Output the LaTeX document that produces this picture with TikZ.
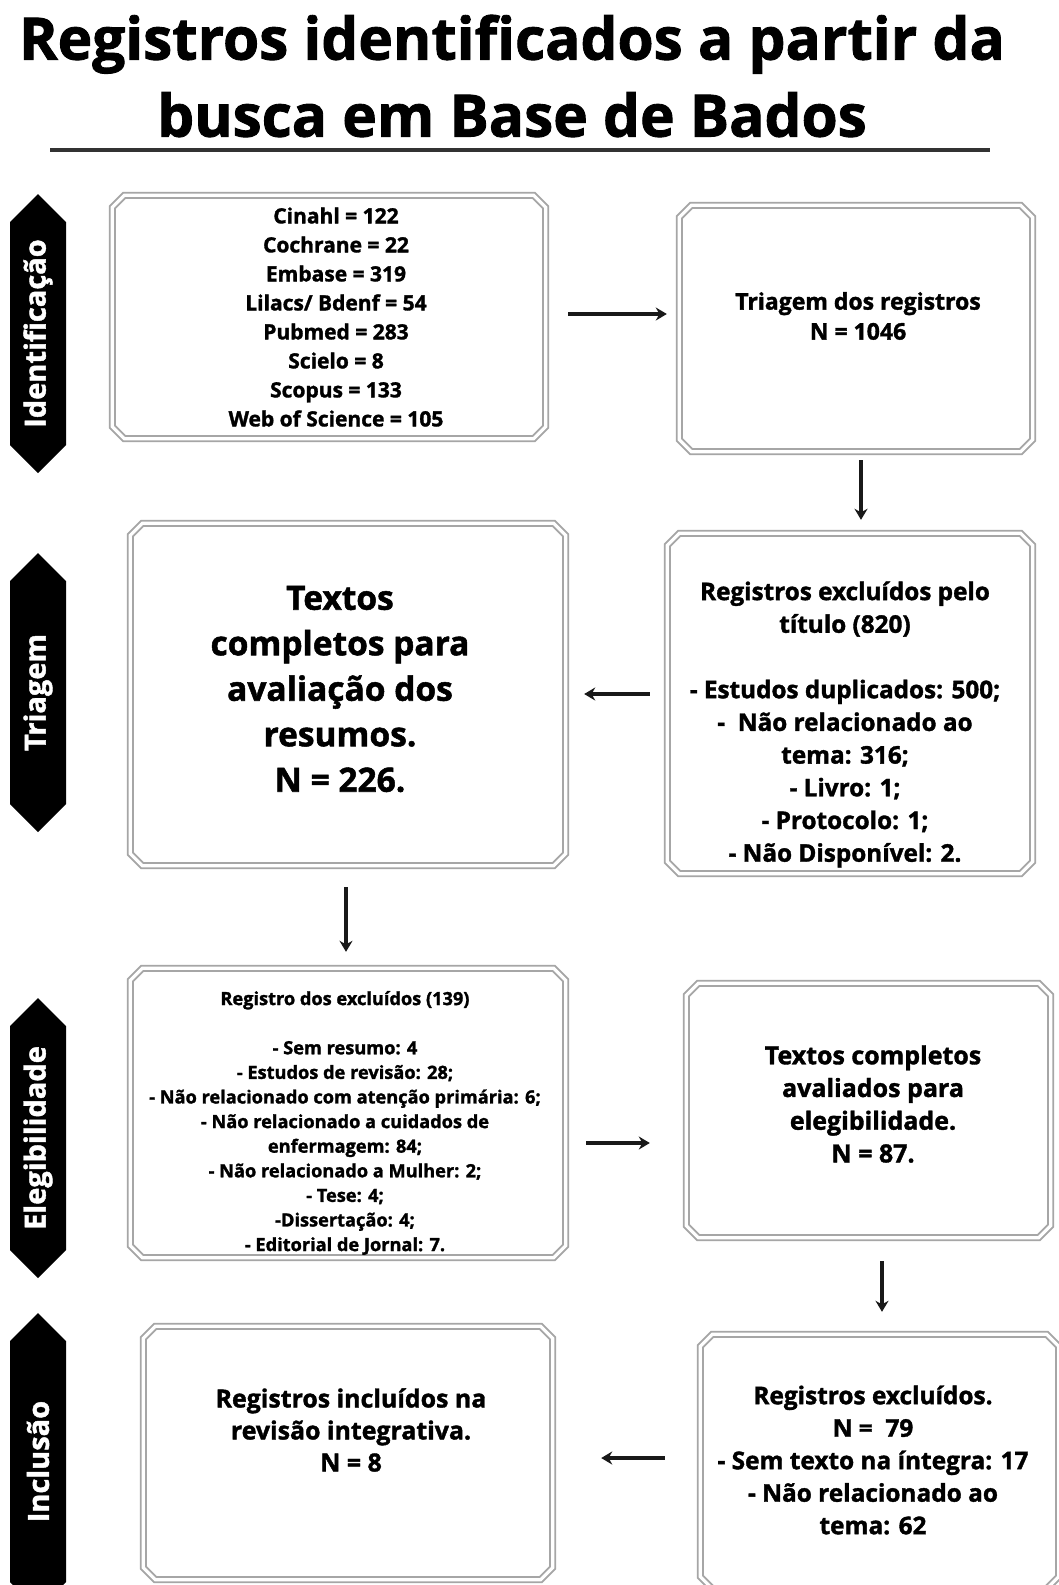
\documentclass[tikz,border=0pt]{standalone}
\usepackage{fontspec}
\setmainfont{Open Sans}[BoldFeatures={FakeBold=1.5}]
\usetikzlibrary{arrows.meta}
\tikzset{
  boxnode/.style={draw=none, inner sep=0pt, rectangle},
  frame/.style={draw=gray!70, line width=1.9pt, double=white, double distance=3.2pt},
  txt/.style={align=center, text=black, inner sep=0pt},
  arr/.style={-{Stealth[length=11pt,width=13pt]}, line width=3.2pt, draw=black!90},
  sidetxt/.style={text=white, rotate=90, inner sep=0pt, font=\bfseries\fontsize{29}{32}\selectfont},
}
\newcommand\chamframe[1]{\draw[frame] ([xshift=12pt]#1.north west) -- ([xshift=-12pt]#1.north east) -- ([yshift=-12pt]#1.north east) -- ([yshift=12pt]#1.south east) -- ([xshift=-12pt]#1.south east) -- ([xshift=12pt]#1.south west) -- ([yshift=12pt]#1.south west) -- ([yshift=-12pt]#1.north west) -- cycle;}
\newcommand\sidehex[4]{%
  \fill[black] (38,#2) -- (66,{#2+28}) -- (66,{#3-28}) -- (38,#3) -- (10,{#3-28}) -- (10,{#2+28}) -- cycle;
  \node[sidetxt] (#1) at (38,{(#2+#3)/2}) {#4};}
\begin{document}
\begin{tikzpicture}[x=1pt,y=-1pt]
\useasboundingbox (0,0) rectangle (1059,1585);
\clip (0,0) rectangle (1059,1585);
\fill[white] (0,0) rectangle (1059,1585);

% title
\node[txt, font=\bfseries\fontsize{58.5}{77}\selectfont] (title) at (512,76) {Registros identificados a partir da\\busca em Base de Bados};
\coordinate (ul1) at (50,150);
\coordinate (ul2) at (990,150);
\draw[line width=3.5pt, draw=black!80] (ul1) -- (ul2);

% side labels
\sidehex{s1}{194}{473}{Identificação}
\sidehex{s2}{553}{832}{Triagem}
\sidehex{s3}{998}{1278}{Elegibilidade}
\sidehex{s4}{1313}{1610}{Inclusão}

% boxes
\node[boxnode, minimum width=433pt, minimum height=243pt] (b1) at (329,317) {};
\node[boxnode, minimum width=353pt, minimum height=246pt] (b2) at (856,328.5) {};
\node[boxnode, minimum width=435pt, minimum height=342pt] (b3) at (348,694.5) {};
\node[boxnode, minimum width=365pt, minimum height=340pt] (b4) at (850,703.5) {};
\node[boxnode, minimum width=435pt, minimum height=289pt] (b5) at (348,1113) {};
\node[boxnode, minimum width=364pt, minimum height=254pt] (b6) at (868.5,1110.5) {};
\node[boxnode, minimum width=409pt, minimum height=253pt] (b7) at (348,1453) {};
\node[boxnode, minimum width=358pt, minimum height=254pt] (b8) at (879.5,1461.5) {};
\chamframe{b1}\chamframe{b2}\chamframe{b3}\chamframe{b4}
\chamframe{b5}\chamframe{b6}\chamframe{b7}\chamframe{b8}

% texts
\node[txt, font=\bfseries\fontsize{21}{29}\selectfont] (t1) at (336,317) {Cinahl = 122\\Cochrane = 22\\Embase = 319\\Lilacs/ Bdenf = 54\\Pubmed = 283\\Scielo = 8\\Scopus = 133\\Web of Science = 105};
\node[txt, font=\bfseries\fontsize{23}{30}\selectfont] (t2) at (858,316) {Triagem dos registros\\N = 1046};
\node[txt, font=\bfseries\fontsize{33.5}{45.5}\selectfont] (t3) at (340,689) {Textos\\completos para\\avaliação dos\\resumos.\\N = 226.};
\node[txt, font=\bfseries\fontsize{24.3}{32.7}\selectfont] (t4) at (845,724.5) {Registros excluídos pelo\\título (820)\\[32.7pt]- Estudos duplicados: 500;\\-\ \ Não relacionado ao\\tema: 316;\\- Livro: 1;\\- Protocolo: 1;\\- Não Disponível: 2.};
\node[txt, font=\bfseries\fontsize{18.2}{24.6}\selectfont] (t5) at (345,1123) {Registro dos excluídos (139)\\[24.6pt]- Sem resumo: 4\\- Estudos de revisão: 28;\\- Não relacionado com atenção primária: 6;\\- Não relacionado a cuidados de\\enfermagem: 84;\\- Não relacionado a Mulher: 2;\\- Tese: 4;\\-Dissertação: 4;\\- Editorial de Jornal: 7.};
\node[txt, font=\bfseries\fontsize{25}{32.7}\selectfont] (t6) at (873,1104) {Textos completos\\avaliados para\\elegibilidade.\\N = 87.};
\node[txt, font=\bfseries\fontsize{24.9}{32}\selectfont] (t7) at (351,1430) {Registros incluídos na\\revisão integrativa.\\N = 8};
\node[txt, font=\bfseries\fontsize{24.4}{32.5}\selectfont] (t8) at (873,1460) {Registros excluídos.\\N =\ \ 79\\- Sem texto na íntegra: 17\\- Não relacionado ao\\tema: 62};

% connectors
\draw[arr, shorten <=22.5pt, shorten >=12.5pt] (b1.east |- 0,314) -- (b2.west |- 0,314);
\draw[arr, shorten <=8.5pt, shorten >=13.5pt] (b2.south -| 861,0) -- (b4.north -| 861,0);
\draw[arr, shorten <=17.5pt, shorten >=18.5pt] (b4.west |- 0,694) -- (b3.east |- 0,694);
\draw[arr, shorten <=21.5pt, shorten >=16.5pt] (b3.south -| 346,0) -- (b5.north -| 346,0);
\draw[arr, shorten <=20.5pt, shorten >=36.5pt] (b5.east |- 0,1143) -- (b6.west |- 0,1143);
\draw[arr, shorten <=23.5pt, shorten >=22.5pt] (b6.south -| 882,0) -- (b8.north -| 882,0);
\draw[arr, shorten <=35.5pt, shorten >=48.5pt] (b8.west |- 0,1458) -- (b7.east |- 0,1458);
\end{tikzpicture}
\end{document}
